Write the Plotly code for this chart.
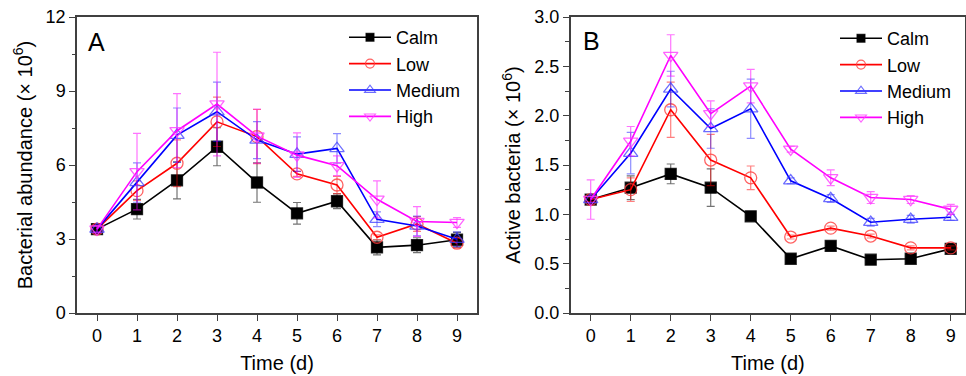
import plotly.graph_objects as go

days = [0, 1, 2, 3, 4, 5, 6, 7, 8, 9]
series_names = ["Calm", "Low", "Medium", "High"]

# Panel A: Bacterial abundance (x 10^6)
a_calm = [3.40, 4.21, 5.38, 6.74, 5.29, 4.04, 4.53, 2.66, 2.75, 2.97]
a_low = [3.40, 4.96, 6.07, 7.75, 7.15, 5.64, 5.19, 3.07, 3.61, 2.83]
a_medium = [3.40, 5.29, 7.21, 8.16, 7.01, 6.44, 6.67, 3.80, 3.53, 2.99]
a_high = [3.40, 5.73, 7.39, 8.47, 7.17, 6.40, 5.97, 4.61, 3.71, 3.67]
a_calm_err = [0.12, 0.40, 0.75, 0.77, 0.80, 0.44, 0.30, 0.30, 0.30, 0.30]
a_low_err = [0.12, 0.40, 0.95, 1.00, 1.10, 0.10, 0.35, 0.10, 0.30, 0.20]
a_medium_err = [0.12, 0.80, 1.10, 1.20, 0.75, 0.70, 0.60, 0.30, 0.40, 0.30]
a_high_err = [0.15, 1.55, 1.50, 2.10, 1.10, 0.90, 0.40, 0.75, 0.60, 0.20]

# Panel B: Active bacteria (x 10^6)
b_calm = [1.15, 1.27, 1.41, 1.27, 0.98, 0.55, 0.68, 0.54, 0.55, 0.65]
b_low = [1.15, 1.25, 2.06, 1.55, 1.37, 0.77, 0.86, 0.78, 0.66, 0.66]
b_medium = [1.15, 1.62, 2.27, 1.87, 2.07, 1.34, 1.16, 0.92, 0.95, 0.97]
b_high = [1.15, 1.74, 2.61, 2.02, 2.30, 1.66, 1.37, 1.17, 1.15, 1.05]
b_calm_err = [0.02, 0.12, 0.10, 0.19, 0.02, 0.02, 0.02, 0.02, 0.02, 0.02]
b_low_err = [0.02, 0.12, 0.28, 0.26, 0.12, 0.02, 0.02, 0.02, 0.02, 0.02]
b_medium_err = [0.03, 0.21, 0.18, 0.20, 0.30, 0.03, 0.04, 0.04, 0.04, 0.03]
b_high_err = [0.20, 0.15, 0.21, 0.13, 0.17, 0.03, 0.08, 0.06, 0.04, 0.05]

line_colors = ["#000000", "#ff0000", "#0000ff", "#ff00ff"]
err_colors = ["rgba(0,0,0,0.55)", "rgba(255,0,0,0.5)", "rgba(0,0,255,0.45)", "rgba(255,0,255,0.55)"]
mk_line = ["rgba(0,0,0,0.8)", "rgba(255,60,60,0.8)", "rgba(60,60,255,0.75)", "rgba(255,60,255,0.8)"]
symbols = ["square", "circle-open", "triangle-up-open", "triangle-down-open"]
mk_sizes = [11, 12, 12.5, 12.5]
leg_sizes = [8, 9, 9.5, 9.5]

FONT = "Arial, 'Liberation Sans', sans-serif"
fig = go.Figure()

panels = [
    ("x", "y", [a_calm, a_low, a_medium, a_high], [a_calm_err, a_low_err, a_medium_err, a_high_err], "legend"),
    ("x2", "y2", [b_calm, b_low, b_medium, b_high], [b_calm_err, b_low_err, b_medium_err, b_high_err], "legend2"),
]

for xa, ya, vals, errs, leg in panels:
    for i, name in enumerate(series_names):
        fig.add_trace(go.Scatter(
            x=days, y=vals[i], xaxis=xa, yaxis=ya, mode="lines+markers", name=name,
            showlegend=False,
            line=dict(color=line_colors[i], width=1.6),
            marker=dict(symbol=symbols[i], size=mk_sizes[i], color=line_colors[i] if i == 0 else mk_line[i],
                        line=dict(width=1.3, color=mk_line[i])),
            error_y=dict(type="data", array=errs[i], visible=True, color=err_colors[i],
                         thickness=1.2, width=4),
        ))
    for i, name in enumerate(series_names):
        fig.add_trace(go.Scatter(
            x=[None], y=[None], xaxis=xa, yaxis=ya, mode="lines+markers", name=name,
            legend=leg, showlegend=True,
            line=dict(color=line_colors[i], width=1.6),
            marker=dict(symbol=symbols[i], size=leg_sizes[i], color=line_colors[i] if i == 0 else mk_line[i],
                        line=dict(width=1.1, color=mk_line[i])),
        ))

W, H = 966, 376
axis_common = dict(showline=True, linecolor="#404040", linewidth=1.5, mirror=True,
                   ticks="outside", ticklen=6, tickwidth=1.3, tickcolor="#404040",
                   showgrid=False, zeroline=False, automargin=False,
                   tickfont=dict(family=FONT, size=18, color="#000"),
                   title_font=dict(family=FONT, size=20, color="#000"))

ydom = [1 - 313 / H, 1 - 17 / H]
fig.update_layout(
    width=W, height=H, margin=dict(l=0, r=0, t=0, b=0),
    paper_bgcolor="white", plot_bgcolor="white",
    font=dict(family=FONT, color="#000"),
    xaxis=dict(domain=[77 / W, 477 / W], range=[-0.5, 9.5], tickvals=days, anchor="y",
               title=dict(text="Time (d)", standoff=11), **axis_common),
    yaxis=dict(domain=ydom, range=[0, 12], tickvals=[0, 3, 6, 9, 12], anchor="x",
               minor=dict(tickvals=[1.5, 4.5, 7.5, 10.5], ticks="outside", ticklen=3.5, tickcolor="#404040", tickwidth=1.2),
               title=dict(text="Bacterial abundance (× 10<sup>6</sup>)", standoff=8), **axis_common),
    xaxis2=dict(domain=[570.7 / W, 965 / W], range=[-0.5, 9.357], tickvals=days, anchor="y2",
                title=dict(text="Time (d)", standoff=11), **axis_common),
    yaxis2=dict(domain=ydom, range=[0, 3.0], tickvals=[0, 0.5, 1.0, 1.5, 2.0, 2.5, 3.0], anchor="x2",
                ticktext=["0.0", "0.5", "1.0", "1.5", "2.0", "2.5", "3.0"],
                minor=dict(tickvals=[0.25, 0.75, 1.25, 1.75, 2.25, 2.75], ticks="outside", ticklen=3.5, tickcolor="#404040", tickwidth=1.2),
                title=dict(text="Active bacteria (× 10<sup>6</sup>)", standoff=8), **axis_common),
    legend=dict(x=344 / W, xanchor="left", y=1 - 19 / H, yanchor="top", bgcolor="rgba(0,0,0,0)",
                font=dict(family=FONT, size=18, color="#000"), itemwidth=42, tracegroupgap=0),
    legend2=dict(x=835 / W, xanchor="left", y=1 - 20 / H, yanchor="top", bgcolor="rgba(0,0,0,0)",
                 font=dict(family=FONT, size=18, color="#000"), itemwidth=42, tracegroupgap=0),
    annotations=[
        dict(text="A", x=86 / W, y=1 - 42 / H, xref="paper", yref="paper", xanchor="left", yanchor="middle",
             showarrow=False, font=dict(family=FONT, size=25, color="#000")),
        dict(text="B", x=581 / W, y=1 - 41 / H, xref="paper", yref="paper", xanchor="left", yanchor="middle",
             showarrow=False, font=dict(family=FONT, size=25, color="#000")),
    ],
)

fig.write_html("out.html")
